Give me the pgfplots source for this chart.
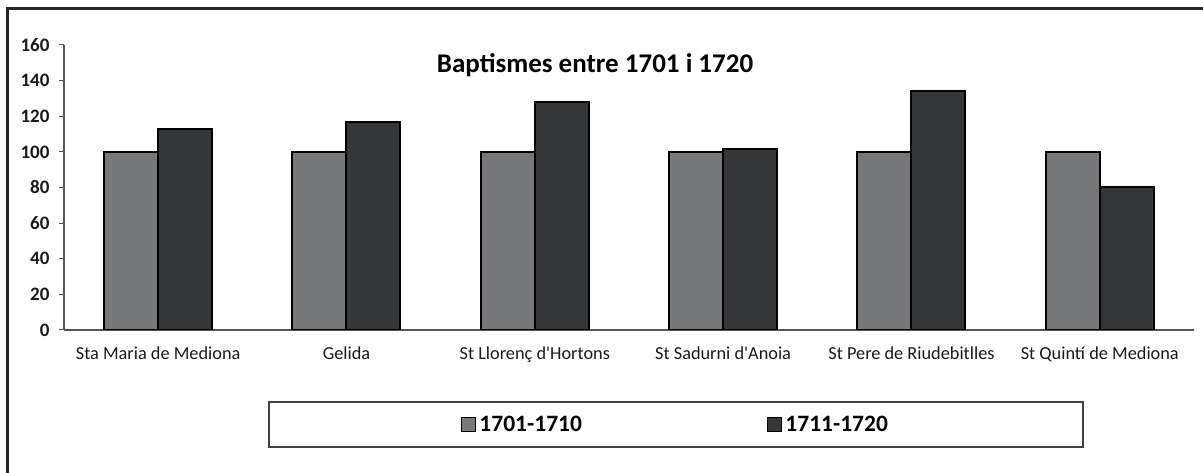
\documentclass[border=0pt]{standalone}
\usepackage{pgfplots}
\pgfplotsset{compat=1.18}
\usepackage{fontspec}
\setmainfont{Carlito}
\definecolor{lightbar}{HTML}{76787A}
\definecolor{darkbar}{HTML}{353739}
\definecolor{axgray}{HTML}{555555}
\begin{document}
\begin{tikzpicture}[x=1bp,y=1bp]
\path[use as bounding box] (-64,-143) rectangle (1139,330);
\draw[line width=3bp, color=black!85] (-56,-143) -- (-56,321) -- (1139,321);
\begin{axis}[
  at={(0,0)}, anchor=south west,
  scale only axis, width=1130bp, height=285bp,
  ybar=0pt, bar width=54bp,
  xmin=-0.5, xmax=5.5, ymin=0, ymax=160,
  axis x line*=bottom, axis y line*=left,
  axis line style={color=axgray, line width=1.2bp, -},
  xtick={0,1,2,3,4,5},
  xticklabels={Sta Maria de Mediona, Gelida, St Llorenç d\textquotesingle Hortons, St Sadurni d\textquotesingle Anoia, St Pere de Riudebitlles, St Quintí de Mediona},
  x tick label style={font=\fontsize{18.3bp}{21bp}\selectfont, yshift=-8bp, color=black!90},
  ytick={0,20,...,160},
  y tick label style={font=\fontsize{19bp}{22bp}\selectfont\bfseries, xshift=-6bp, color=black!90},
  /pgf/number format/assume math mode=true,
  tick align=outside,
  major tick length=5bp,
  tick style={color=axgray, line width=1bp},
  xtick style={draw=none},
  extra x ticks={0.5,1.5,2.5,3.5,4.5,5.5},
  extra x tick labels={},
  extra x tick style={major tick length=7bp, tick style={draw=axgray, line width=1bp}},
  title={Baptismes entre 1701 i 1720},
  title style={at={(0.47,0.908)}, anchor=center, font=\fontsize{27bp}{31bp}\selectfont\bfseries},
  legend columns=2,
  legend style={at={(0.5416,-0.3316)}, anchor=center, draw=black!75, line width=1.5bp,
    inner xsep=192bp, inner ysep=12bp,
    font=\fontsize{23.5bp}{27bp}\selectfont\bfseries,
    nodes={inner xsep=3bp, inner ysep=2bp},
    /tikz/every even column/.append style={column sep=182bp}},
  legend image code/.code={\draw[#1, line width=1.5bp] (0bp,-7bp) rectangle (14bp,7bp);},
]
\addplot[fill=lightbar, draw=black, line width=2bp] coordinates {(0,100) (1,100) (2,100) (3,100) (4,100) (5,100)};
\addplot[fill=darkbar, draw=black, line width=2bp] coordinates {(0,113) (1,117) (2,128) (3,101.5) (4,134) (5,80.5)};
\legend{1701-1710, 1711-1720}
\end{axis}
\end{tikzpicture}
\end{document}
